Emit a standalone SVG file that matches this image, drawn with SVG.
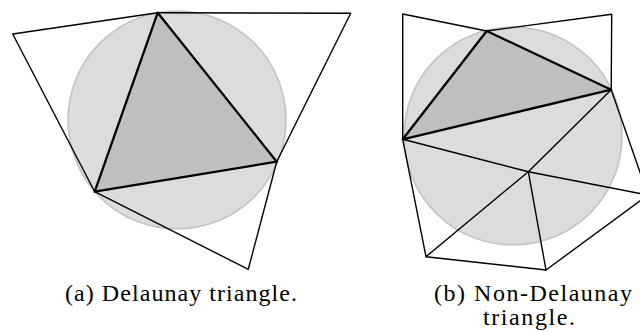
<svg xmlns="http://www.w3.org/2000/svg" width="640" height="332" viewBox="0 0 640 332">
<style>
.circ{fill:#dcdcdc;stroke:#c4c4c4;stroke-width:1.6}
.tri{fill:#bfbfbf;stroke:none}
.thin{fill:none;stroke:#000;stroke-width:1.4;stroke-linejoin:round;stroke-linecap:round}
.thick{fill:none;stroke:#000;stroke-width:2.3;stroke-linejoin:round;stroke-linecap:round}
.cap{font-family:"Liberation Serif","DejaVu Serif",serif;font-size:24px;fill:#000}
</style>
<rect width="640" height="332" fill="#fff"/>
<g id="fig-a">
  <circle class="circ" cx="177" cy="120" r="109"/>
  <polygon class="tri" points="157.7,12.7 276.7,161.7 94.7,191.7"/>
  <g id="edges-a">
    <polyline class="thin" points="157.7,12.7 12.7,34 94.7,191.7"/>
    <polyline class="thin" points="157.7,12.7 350.7,13.3 276.7,161.7"/>
    <polyline class="thin" points="94.7,191.7 248.3,269.3 276.7,161.7"/>
    <polygon class="thick" points="157.7,12.7 276.7,161.7 94.7,191.7"/>
  </g>
  <text class="cap" x="65" y="301" textLength="232">(a) Delaunay triangle.</text>
</g>
<g id="fig-b">
  <circle class="circ" cx="513" cy="136" r="109"/>
  <polygon class="tri" points="486.7,31 611.2,89.7 402.7,139.3"/>
  <g id="edges-b">
    <polyline class="thin" points="486.7,31 402.7,14 402.7,139.3"/>
    <polyline class="thin" points="486.7,31 611.7,14.3 611.2,89.7"/>
    <polyline class="thin" points="402.7,139.3 528.3,171.7 611.2,89.7"/>
    <polyline class="thin" points="402.7,139.3 426,256.7 528.3,171.7"/>
    <polyline class="thin" points="426,256.7 546,270 528.3,171.7"/>
    <polyline class="thin" points="546,270 648,195 528.3,171.7"/>
    <polyline class="thin" points="611.2,89.7 648,195"/>
    <polygon class="thick" points="486.7,31 611.2,89.7 402.7,139.3"/>
  </g>
  <text class="cap" x="434" y="301" textLength="198">(b) Non-Delaunay</text>
  <text class="cap" x="483" y="325" textLength="92">triangle.</text>
</g>
</svg>
